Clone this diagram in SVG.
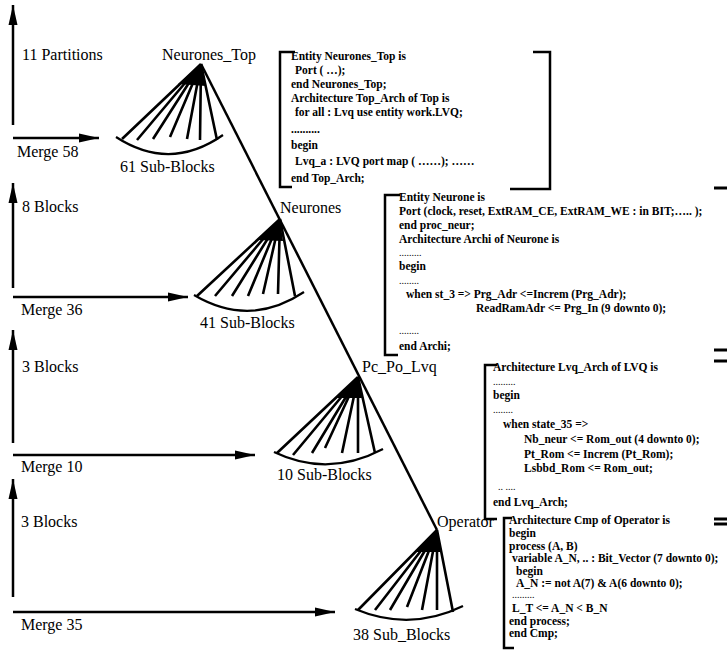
<svg xmlns="http://www.w3.org/2000/svg" width="727" height="669" viewBox="0 0 727 669">
<style>
.lbl{font-family:"Liberation Serif","Times New Roman",serif;font-size:16px;fill:#000}
.code{font-family:"Liberation Serif","Times New Roman",serif;font-size:11.5px;font-weight:bold;fill:#000}
.dots{font-family:"Liberation Serif","Times New Roman",serif;font-size:10px;fill:#000}
.ln{stroke:#000;stroke-width:2.5;fill:none}
.sp{stroke:#000;stroke-width:2.6;fill:none}
.arc{stroke:#000;stroke-width:2.2;fill:none}
.br{stroke:#000;stroke-width:2.5;fill:none}
.dash{stroke:#000;stroke-width:3}
</style>
<defs>
<marker id="ah" viewBox="0 0 20 10" refX="20" refY="5" markerWidth="20" markerHeight="10" markerUnits="userSpaceOnUse" orient="auto">
<path d="M0,0.5 L20,5 L0,9.5 Z" fill="#000"/>
</marker>
</defs>
<rect width="727" height="669" fill="#fff"/>

<g id="connectors">
<line class="ln" x1="201" y1="64" x2="437" y2="530"/>
<line class="ln" x1="13" y1="125" x2="13" y2="5" marker-end="url(#ah)"/>
<line class="ln" x1="13" y1="138" x2="99" y2="138" marker-end="url(#ah)"/>
<line class="ln" x1="13" y1="288" x2="13" y2="183" marker-end="url(#ah)"/>
<line class="ln" x1="13" y1="297" x2="188" y2="297" marker-end="url(#ah)"/>
<line class="ln" x1="13" y1="443" x2="13" y2="330" marker-end="url(#ah)"/>
<line class="ln" x1="13" y1="455" x2="255" y2="455" marker-end="url(#ah)"/>
<line class="ln" x1="13" y1="597" x2="13" y2="479" marker-end="url(#ah)"/>
<line class="ln" x1="13" y1="612" x2="335" y2="612" marker-end="url(#ah)"/>
</g>

<g id="scale-labels">
<text class="lbl" x="22" y="60">11 Partitions</text>
<text class="lbl" x="17" y="157">Merge 58</text>
<text class="lbl" x="22" y="212">8 Blocks</text>
<text class="lbl" x="21" y="315">Merge 36</text>
<text class="lbl" x="22" y="372">3 Blocks</text>
<text class="lbl" x="21" y="472">Merge 10</text>
<text class="lbl" x="21" y="527">3 Blocks</text>
<text class="lbl" x="21" y="630">Merge 35</text>
</g>

<g id="node-neurones-top">
<text class="lbl" x="162" y="60">Neurones_Top</text>
<polygon points="201,64 178,84 206,86" fill="#000"/>
<path class="sp" d="M201,64L122,139M201,64L137,140M201,64L153,139M201,64L170,137M201,64L187,139M201,64L200,140M201,64L217,140"/>
<path class="arc" d="M116,137 Q170,172 223,135"/>
<text class="lbl" x="120" y="172">61 Sub-Blocks</text>
</g>

<g id="node-neurones">
<text class="lbl" x="280" y="213">Neurones</text>
<polygon points="280,219 257,240 283,241" fill="#000"/>
<path class="sp" d="M280,219L197,296M280,219L215,296M280,219L232,296M280,219L248,296M280,219L263,294M280,219L278,294M280,219L295,296"/>
<path class="arc" d="M194,295 Q250,328 304,292"/>
<text class="lbl" x="200" y="328">41 Sub-Blocks</text>
</g>

<g id="node-pc-po-lvq">
<text class="lbl" x="362" y="372">Pc_Po_Lvq</text>
<polygon points="358,377 336,398 362,398" fill="#000"/>
<path class="sp" d="M358,377L277,453M358,377L293,455M358,377L312,453M358,377L325,448M358,377L342,453M358,377L358,453M358,377L375,453"/>
<path class="arc" d="M274,452 Q328,478 383,449"/>
<text class="lbl" x="277" y="480">10 Sub-Blocks</text>
</g>

<g id="node-operator">
<text class="lbl" x="437" y="527">Operator</text>
<polygon points="437,530 415,552 441,552" fill="#000"/>
<path class="sp" d="M437,530L358,610M437,530L375,610M437,530L390,610M437,530L407,607M437,530L422,610M437,530L437,610M437,530L453,612"/>
<path class="arc" d="M355,609 Q410,632 463,606"/>
<text class="lbl" x="353" y="640">38 Sub_Blocks</text>
</g>

<g id="code-neurones-top">
<path class="br" d="M295,52 H280 V187 H292"/>
<path class="br" d="M533,52 H550 V189 H510"/>
<text class="code" x="291" y="60">Entity Neurones_Top is</text>
<text class="code" x="295" y="74">Port  ( …);</text>
<text class="code" x="291" y="88">end Neurones_Top;</text>
<text class="code" x="291" y="102">Architecture Top_Arch of Top is</text>
<text class="code" x="295" y="116">for all : Lvq use entity work.LVQ;</text>
<text class="code" x="291" y="133">..........</text>
<text class="code" x="291" y="149">begin</text>
<text class="code" x="295" y="165">Lvq_a : LVQ port map ( ……);  ……</text>
<text class="code" x="291" y="182">end Top_Arch;</text>
</g>

<g id="code-neurone">
<path class="br" d="M400,195 H385 V355 H398"/>
<text class="code" x="399" y="201">Entity  Neurone  is</text>
<text class="code" x="399" y="215">Port (clock, reset, ExtRAM_CE, ExtRAM_WE : in BIT;….. );</text>
<text class="code" x="399" y="229">end proc_neur;</text>
<text class="code" x="399" y="243">Architecture Archi of Neurone is</text>
<text class="dots" x="399" y="256">.........</text>
<text class="code" x="399" y="270">begin</text>
<text class="dots" x="399" y="284">........</text>
<text class="code" x="406" y="298">when st_3 =&gt; Prg_Adr &lt;=Increm (Prg_Adr);</text>
<text class="code" x="476" y="312">ReadRamAdr &lt;= Prg_In (9 downto 0);</text>
<text class="dots" x="399" y="334">........</text>
<text class="code" x="399" y="350">end Archi;</text>
</g>

<g id="code-lvq">
<path class="br" d="M497,365 H485 V519 H497"/>
<text class="code" x="493" y="371">Architecture Lvq_Arch  of LVQ is</text>
<text class="dots" x="493" y="385">.........</text>
<text class="code" x="493" y="399">begin</text>
<text class="dots" x="493" y="413">........</text>
<text class="code" x="503" y="428">when state_35 =&gt;</text>
<text class="code" x="524" y="443">Nb_neur &lt;= Rom_out (4 downto 0);</text>
<text class="code" x="524" y="458">Pt_Rom &lt;= Increm (Pt_Rom);</text>
<text class="code" x="524" y="472">Lsbbd_Rom &lt;= Rom_out;</text>
<text class="dots" x="498" y="490">.. ....</text>
<text class="code" x="493" y="506">end Lvq_Arch;</text>
</g>

<g id="code-cmp">
<path class="br" d="M512,518 H504 V648 H514"/>
<text class="code" x="509" y="524">Architecture Cmp of Operator is</text>
<text class="code" x="509" y="537">begin</text>
<text class="code" x="509" y="550">process (A, B)</text>
<text class="code" x="512" y="562">variable A_N, .. : Bit_Vector (7 downto 0);</text>
<text class="code" x="516" y="575">begin</text>
<text class="code" x="516" y="587">A_N := not A(7) &amp;  A(6 downto 0);</text>
<text class="dots" x="512" y="598">.........</text>
<text class="code" x="512" y="612">L_T &lt;= A_N &lt; B_N</text>
<text class="code" x="509" y="625">end process;</text>
<text class="code" x="509" y="637">end Cmp;</text>
</g>

<g id="edge-marks">
<line class="dash" x1="714" y1="188" x2="727" y2="188"/>
<line class="dash" x1="714" y1="350" x2="727" y2="350"/>
<line class="dash" x1="714" y1="361" x2="727" y2="361"/>
<line class="dash" x1="714" y1="519" x2="727" y2="519"/>
<line class="dash" x1="714" y1="524" x2="727" y2="524" stroke-width="1.5"/>
</g>
</svg>
